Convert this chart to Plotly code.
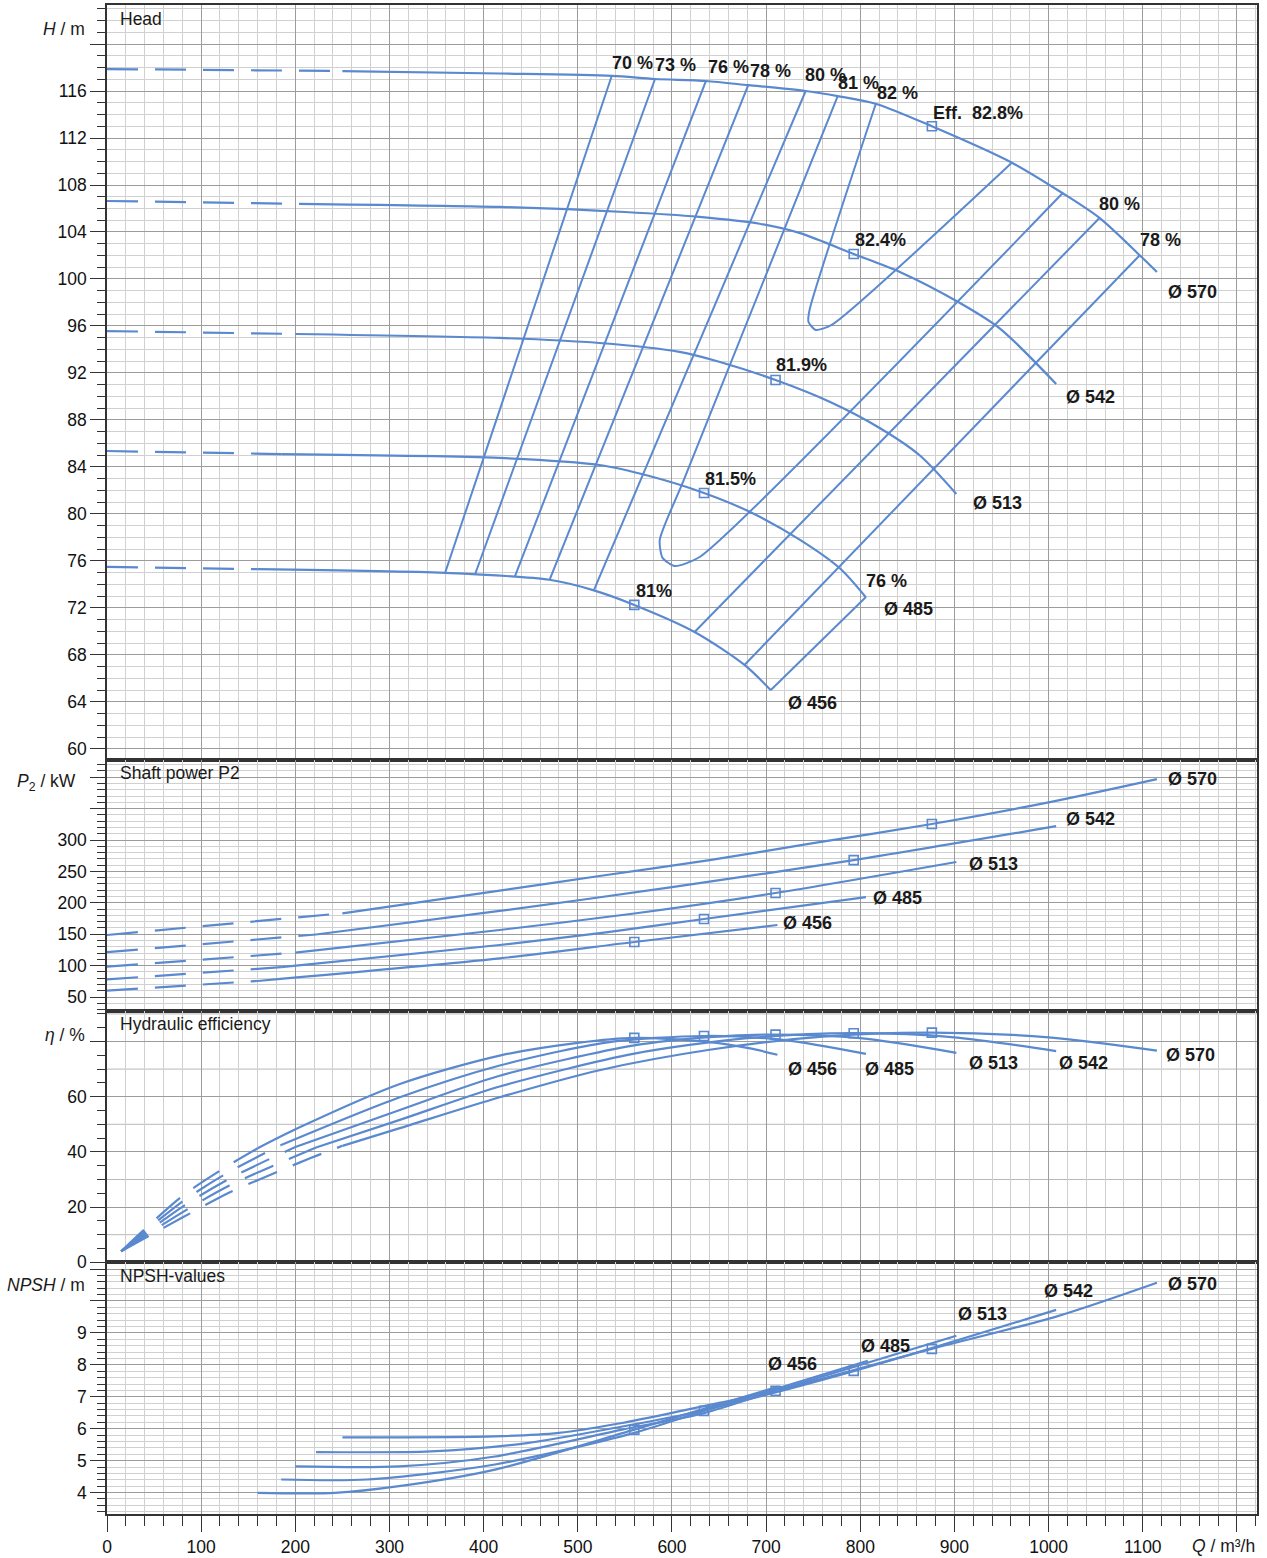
import plotly.graph_objects as go

# ---------------- data ----------------
diam_labels = ["Ø 456", "Ø 485", "Ø 513", "Ø 542", "Ø 570"]
q_min = [160, 185, 200, 222, 250]

# Head H [m]
head_q_456 = [0, 160, 359, 470, 517, 560, 624, 677, 705]
head_h_456 = [75.49, 75.30, 74.98, 74.40, 73.50, 72.26, 69.96, 67.15, 65.00]
head_q_485 = [0, 185, 417, 523, 576, 634, 683, 736, 778, 806]
head_h_485 = [85.36, 85.10, 84.77, 84.17, 83.23, 81.79, 80.17, 77.80, 75.40, 72.90]
head_q_513 = [0, 200, 417, 523, 608, 651, 710, 768, 821, 863, 902]
head_h_513 = [95.57, 95.32, 94.98, 94.55, 93.80, 92.94, 91.40, 89.53, 87.30, 85.00, 81.70]
head_q_542 = [0, 222, 417, 550, 629, 693, 736, 793, 842, 904, 948, 1008]
head_h_542 = [106.64, 106.38, 106.13, 105.70, 105.28, 104.70, 103.90, 102.13, 100.60, 98.04, 95.80, 91.06]
head_q_570 = [0, 250, 417, 536, 582, 636, 681, 742, 776, 817, 876, 961, 1015, 1054, 1097, 1115]
head_h_570 = [117.87, 117.70, 117.49, 117.28, 117.02, 116.85, 116.50, 116.00, 115.57, 114.90, 113.00,
              109.90, 107.30, 105.20, 102.00, 100.60]

# Iso-efficiency lines in the head diagram
iso_names = ["70", "73", "76", "78", "80a", "81", "82", "80b", "78b", "76b"]
iso_q_70 = [536, 359]
iso_h_70 = [117.28, 74.98]
iso_q_73 = [582, 391]
iso_h_73 = [117.02, 74.89]
iso_q_76 = [636, 433]
iso_h_76 = [116.85, 74.64]
iso_q_78 = [681, 470]
iso_h_78 = [116.50, 74.40]
iso_q_80a = [742, 517]
iso_h_80a = [116.00, 73.50]
iso_q_81 = [776, 612.5, 587, 590, 603, 629.4, 1015]
iso_h_81 = [115.57, 82.89, 77.79, 76.26, 75.57, 76.34, 107.32]
iso_q_82 = [816.4, 746.1, 745, 752.6, 769.6, 960.6]
iso_h_82 = [114.89, 97.36, 96.34, 95.66, 96.09, 109.87]
iso_q_80b = [1054, 624]
iso_h_80b = [105.19, 69.96]
iso_q_78b = [1097, 677]
iso_h_78b = [102.04, 67.15]
iso_q_76b = [806, 705]
iso_h_76b = [72.94, 65.02]

# Shaft power P2 [kW]
pow_q_456 = [0, 160, 417, 560, 712]
pow_p_456 = [60.0, 75.5, 111.5, 137.6, 164.6]
pow_q_485 = [0, 185, 417, 530, 634, 806]
pow_p_485 = [78.0, 97.5, 132.8, 153.0, 174.2, 209.0]
pow_q_513 = [0, 200, 417, 560, 710, 902]
pow_p_513 = [98.3, 120.6, 156.7, 183.0, 215.6, 265.0]
pow_q_542 = [0, 222, 417, 600, 793, 1008]
pow_p_542 = [121.3, 149.5, 187.0, 225.0, 268.0, 322.0]
pow_q_570 = [0, 250, 417, 523, 640, 750, 876, 1000, 1115]
pow_p_570 = [148.7, 183.3, 219.3, 242.7, 268.0, 295.0, 325.5, 360.0, 397.0]

# Hydraulic efficiency [%]
eta_q_456 = [15, 80, 130, 160, 204, 311, 417, 500, 560, 640, 683, 712]
eta_e_456 = [4.0, 24.0, 35.3, 41.3, 48.8, 64.6, 74.9, 79.5, 81.3, 79.8, 77.5, 75.2]
eta_q_485 = [15, 80, 130, 185, 311, 417, 530, 634, 720, 806]
eta_e_485 = [4.0, 22.0, 32.8, 42.5, 59.8, 71.3, 79.6, 82.0, 80.5, 75.5]
eta_q_513 = [15, 80, 130, 200, 311, 417, 560, 640, 710, 800, 902]
eta_e_513 = [4.0, 20.1, 30.3, 41.8, 55.2, 67.6, 78.6, 81.6, 82.5, 81.2, 75.9]
eta_q_542 = [15, 80, 130, 222, 311, 417, 560, 680, 793, 900, 1008]
eta_e_542 = [4.0, 18.1, 27.8, 41.6, 51.6, 63.7, 75.6, 81.2, 83.0, 81.5, 76.5]
eta_q_570 = [15, 80, 130, 170, 215, 250, 311, 417, 523, 640, 760, 876, 1000, 1115]
eta_e_570 = [4.0, 16.2, 25.3, 31.2, 37.6, 42.2, 48.6, 59.8, 69.6, 77.0, 81.8, 83.2, 81.5, 76.7]

# NPSH [m]
npsh_q_456 = [160, 242, 310, 412, 560, 713]
npsh_n_456 = [3.99, 3.99, 4.20, 4.72, 5.97, 7.32]
npsh_q_485 = [185, 276, 412, 560, 634, 808]
npsh_n_485 = [4.41, 4.41, 4.88, 5.87, 6.56, 8.13]
npsh_q_513 = [200, 310, 412, 547, 634, 710, 902]
npsh_n_513 = [4.82, 4.82, 5.13, 5.97, 6.49, 7.19, 8.91]
npsh_q_542 = [222, 344, 446, 547, 628, 794, 1008]
npsh_n_542 = [5.27, 5.29, 5.55, 6.07, 6.54, 7.81, 9.72]
npsh_q_570 = [250, 412, 480, 547, 615, 649, 710, 876, 1008, 1115]
npsh_n_570 = [5.73, 5.76, 5.87, 6.18, 6.59, 6.80, 7.18, 8.50, 9.51, 10.57]

# Best efficiency points
bep_q = [560, 634, 710, 793, 876]
bep_head = [72.26, 81.79, 91.40, 102.13, 113.00]
bep_power = [137.6, 174.2, 215.6, 268.0, 325.5]
bep_eta = [81.3, 82.0, 82.5, 83.0, 83.2]
bep_npsh = [5.97, 6.56, 7.19, 7.81, 8.50]
bep_labels = ["81%", "81.5%", "81.9%", "82.4%", "Eff.  82.8%"]

# axis tick labels
q_ticks = list(range(0, 1201, 100))
h_ticks = list(range(60, 121, 4))
p_ticks = list(range(50, 401, 50))
e_ticks = [0, 20, 40, 60, 80]
n_ticks = list(range(4, 12))

# ---------------- styling ----------------
BLUE = "#5a89cf"
GRID_MAJ = "#9c9c9c"
GRID_MIN = "#d0d0d0"
AX = "#333333"
SANS = "Liberation Sans, Arial, sans-serif"
TXT = 17.5
TICKFONT = dict(family=SANS, size=TXT, color="#111111")
LW = 2.2

W, H = 1267, 1558
ML, MR, MT, MB = 107, 10, 5, 44
PW, PH = W - ML - MR, H - MT - MB
X_MAX = 1221.3


def dom(top_px, bot_px):
    return [(H - MB - bot_px) / PH, (H - MB - top_px) / PH]


head_dom = dom(5, 760)
pow_dom = dom(760, 1011)
eta_dom = dom(1011, 1262.3)
npsh_dom = dom(1262.3, 1514)


def pp(px, py):
    return (px - ML) / PW, (H - MB - py) / PH


fig = go.Figure()

diams = ["456", "485", "513", "542", "570"]
g = globals()


def add_curve(q, v, qmin, xa, ya, dashed=True):
    if dashed:
        dq = [a for a in q if a <= qmin]
        dv = [b for a, b in zip(q, v) if a <= qmin]
        fig.add_trace(go.Scatter(x=dq, y=dv, mode="lines", xaxis=xa, yaxis=ya,
                                 line=dict(color=BLUE, width=LW, dash="31px,17px", shape="spline", smoothing=0.8),
                                 showlegend=False, hoverinfo="skip"))
    sq = [a for a in q if a >= qmin]
    sv = [b for a, b in zip(q, v) if a >= qmin]
    fig.add_trace(go.Scatter(x=sq, y=sv, mode="lines", xaxis=xa, yaxis=ya,
                             line=dict(color=BLUE, width=LW, shape="spline", smoothing=0.8),
                             showlegend=False, hoverinfo="skip"))


for i, d in enumerate(diams):
    add_curve(g["head_q_" + d], g["head_h_" + d], q_min[i], "x", "y")
    add_curve(g["pow_q_" + d], g["pow_p_" + d], q_min[i], "x2", "y2")
    add_curve(g["eta_q_" + d], g["eta_e_" + d], q_min[i], "x3", "y3")
    add_curve(g["npsh_q_" + d], g["npsh_n_" + d], q_min[i], "x4", "y4", dashed=False)

for nm in iso_names:
    fig.add_trace(go.Scatter(x=g["iso_q_" + nm], y=g["iso_h_" + nm], mode="lines", xaxis="x", yaxis="y",
                             line=dict(color=BLUE, width=2, shape="spline", smoothing=0.6),
                             showlegend=False, hoverinfo="skip"))

mk = dict(symbol="square-open", size=9, color=BLUE, line=dict(width=1.6, color=BLUE))
for xa, ya, vals in [("x", "y", bep_head), ("x2", "y2", bep_power), ("x3", "y3", bep_eta), ("x4", "y4", bep_npsh)]:
    fig.add_trace(go.Scatter(x=bep_q, y=vals, mode="markers", xaxis=xa, yaxis=ya, marker=mk,
                             showlegend=False, hoverinfo="skip"))


def xaxis(anchor, bottom):
    d = dict(range=[0, X_MAX], anchor=anchor, domain=[0, 1], showgrid=True, gridcolor=GRID_MAJ, gridwidth=1,
             tickmode="array", tickvals=q_ticks, zeroline=False, showline=True, linecolor=AX, linewidth=1.5,
             mirror=True, fixedrange=True, automargin=False,
             minor=dict(tickmode="linear", tick0=0, dtick=20, showgrid=True, gridcolor=GRID_MIN, gridwidth=1,
                        ticks="outside" if bottom else "", ticklen=10, tickcolor=AX, tickwidth=1))
    if bottom:
        d.update(ticks="outside", ticklen=16, tickcolor=AX, tickwidth=1, showticklabels=True,
                 ticklabelstandoff=0,
                 ticktext=[str(v) if v < 1200 else " " for v in q_ticks], tickfont=TICKFONT)
    else:
        d.update(ticks="", showticklabels=False)
    return d


def yaxis(anchor, domain, rng, tickvals, ticktext, minor_dtick, minor_grid=True):
    return dict(range=rng, domain=domain, anchor=anchor, tickmode="array", tickvals=tickvals, ticktext=ticktext,
                ticks="outside", ticklen=15, tickcolor=AX, tickwidth=1, tickfont=TICKFONT,
                showgrid=True, gridcolor=GRID_MAJ, gridwidth=1, zeroline=False, showline=True, linecolor=AX,
                linewidth=1.5, mirror=True, fixedrange=True, automargin=False,
                minor=dict(tickmode="linear", tick0=0, dtick=minor_dtick, ticks="outside", ticklen=8, tickcolor=AX,
                           tickwidth=1, showgrid=minor_grid, gridcolor=GRID_MIN, gridwidth=1))


fig.update_layout(
    width=W, height=H, margin=dict(l=ML, r=MR, t=MT, b=MB, autoexpand=False),
    paper_bgcolor="white", plot_bgcolor="white",
    showlegend=False,
    xaxis=xaxis("y", False), xaxis2=xaxis("y2", False), xaxis3=xaxis("y3", False), xaxis4=xaxis("y4", True),
    yaxis=yaxis("x", head_dom, [59.06, 123.32], h_ticks, [str(v) if v < 120 else " " for v in h_ticks], 1),
    yaxis2=yaxis("x2", pow_dom, [27.7, 427.4], p_ticks, [str(v) if v <= 300 else " " for v in p_ticks], 10),
    yaxis3=yaxis("x3", eta_dom, [0, 91.05], e_ticks, [str(v) if v < 80 else " " for v in e_ticks], 5, False),
    yaxis4=yaxis("x4", npsh_dom, [3.33, 11.21], n_ticks, [str(v) if v < 10 else " " for v in n_ticks], 0.2),
)

# 10 % grid lines of the efficiency panel
shapes = []
for v in [10, 30, 50, 70, 90]:
    shapes.append(dict(type="line", xref="x3 domain", x0=0, x1=1, yref="y3", y0=v, y1=v,
                       line=dict(color="#b8b8b8", width=1), layer="below"))
fig.update_layout(shapes=shapes)

ann = []


def label(text, px, py, size=18, bold=True, xanchor="center"):
    x, y = pp(px, py)
    ann.append(dict(text=("<b>%s</b>" % text) if bold else text, x=x, y=y, xref="paper", yref="paper",
                    showarrow=False, xanchor=xanchor, yanchor="middle",
                    font=dict(family=SANS, size=size, color="#1a1a1a")))


# panel titles
label("Head", 118, 19, TXT, False, "left")
label("Shaft power P2", 118, 773, TXT, False, "left")
label("Hydraulic efficiency", 118, 1024, TXT, False, "left")
label("NPSH-values", 118, 1276, TXT, False, "left")

# axis titles
label("<i>H</i> / m", 87, 29, TXT, False, "right")
label("<i>P</i><sub>2</sub> / kW", 78, 783, TXT, False, "right")
label("<i>η</i> / %", 87, 1035, TXT, False, "right")
label("<i>NPSH</i> / m", 87, 1285, TXT, False, "right")
label("<i>Q</i> / m³/h", 1257, 1546, TXT, False, "right")

# iso-efficiency labels
for t, px, py in [("70 %", 632, 63), ("73 %", 675, 65), ("76 %", 728, 67), ("78 %", 770, 71),
                  ("80 %", 825, 75), ("81 %", 858, 83), ("82 %", 897, 93),
                  ("80 %", 1119, 204), ("78 %", 1160, 240), ("76 %", 886, 581)]:
    label(t, px, py)

# BEP labels in the head panel
for t, px, py in zip(bep_labels, [654, 730, 801, 880, 978], [591, 479, 365, 240, 113]):
    label(t, px, py)

# diameter labels
for t, px, py in zip(diam_labels, [812, 908, 997, 1090, 1192], [703, 609, 503, 397, 292]):
    label(t, px, py)
for t, px, py in zip(diam_labels, [807, 897, 993, 1090, 1192], [923, 898, 864, 819, 779]):
    label(t, px, py)
for t, px, py in zip(diam_labels, [812, 889, 993, 1083, 1190], [1069, 1069, 1063, 1063, 1055]):
    label(t, px, py)
for t, px, py in zip(diam_labels, [792, 885, 982, 1068, 1192], [1364, 1346, 1314, 1291, 1284]):
    label(t, px, py)

fig.update_layout(annotations=ann)
fig.write_html("out.html", config={"displayModeBar": False},
               post_script="document.body.style.margin='0px';")
